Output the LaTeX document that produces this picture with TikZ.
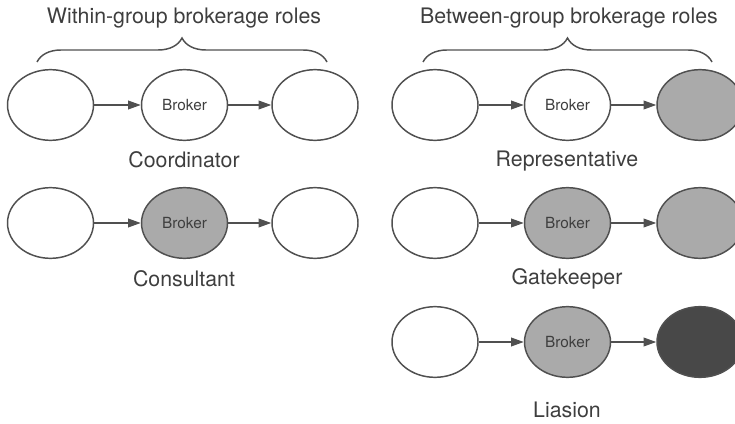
\documentclass[tikz,border=0pt]{standalone}
\usepackage{fontspec}
\setmainfont{TeX Gyre Heros}
\usetikzlibrary{shapes.geometric,arrows.meta,decorations.pathreplacing}

\definecolor{inkgray}{RGB}{80,80,80}
\definecolor{textgray}{RGB}{62,62,62}
\definecolor{midfill}{RGB}{170,170,170}
\definecolor{darkfill}{RGB}{72,72,72}

\tikzset{every picture/.style={line width=0.75pt}}
\tikzset{
  actor/.style={ellipse,draw=inkgray,line width=1.1pt,fill=white,minimum width=64.5pt,minimum height=53pt,inner sep=0pt,text=textgray,font=\fontsize{11.5}{13}\selectfont},
  shaded/.style={actor,fill=midfill},
  darkened/.style={actor,fill=darkfill},
  flow/.style={draw=inkgray,line width=1.2pt,-{Triangle[length=9.5pt,width=6.5pt]}},
  rolename/.style={inner sep=0.75pt,text=textgray,font=\fontsize{16}{19}\selectfont},
  bracket/.style={draw=inkgray,line width=1.1pt,decorate,decoration={brace,amplitude=18pt}}
}

\begin{document}
\begin{tikzpicture}[x=0.75pt,y=0.75pt,yscale=-1,xscale=1]
\useasboundingbox (0,0) rectangle (735,424);

% Titles
\node [rolename] (wtitle) at (184,18) {Within-group brokerage roles};
\node [rolename] (btitle) at (569,18) {Between-group brokerage roles};

%Braces
\coordinate (wbl) at (37,62);
\coordinate (wbr) at (327,62);
\coordinate (bbl) at (423,62);
\coordinate (bbr) at (712,62);
\draw [bracket] (wbl) -- (wbr);
\draw [bracket] (bbl) -- (bbr);

%Coordinator
\node [actor] (coordL) at (50.5,105) {};
\node [actor] (coordB) at (184.5,105) {Broker};
\node [actor] (coordR) at (315,105) {};
\draw [flow] (coordL) -- (coordB);
\draw [flow] (coordB) -- (coordR);
\node [rolename] (coordT) at (184,160) {Coordinator};

%Consultant
\node [actor] (consL) at (50.5,223) {};
\node [shaded] (consB) at (184.5,223) {Broker};
\node [actor] (consR) at (315,223) {};
\draw [flow] (consL) -- (consB);
\draw [flow] (consB) -- (consR);
\node [rolename] (consT) at (184,279) {Consultant};

%Representative
\node [actor] (reprL) at (435,105) {};
\node [actor] (reprB) at (567.5,105) {Broker};
\node [shaded] (reprR) at (700,105) {};
\draw [flow] (reprL) -- (reprB);
\draw [flow] (reprB) -- (reprR);
\node [rolename] (reprT) at (567,161) {Representative};

%Gatekeeper
\node [actor] (gateL) at (435,223) {};
\node [shaded] (gateB) at (567.5,223) {Broker};
\node [shaded] (gateR) at (700,223) {};
\draw [flow] (gateL) -- (gateB);
\draw [flow] (gateB) -- (gateR);
\node [rolename] (gateT) at (567,279) {Gatekeeper};

%Liasion
\node [actor] (liasL) at (435,342) {};
\node [shaded] (liasB) at (567.5,342) {Broker};
\node [darkened] (liasR) at (700,342) {};
\draw [flow] (liasL) -- (liasB);
\draw [flow] (liasB) -- (liasR);
\node [rolename] (liasT) at (567,410) {Liasion};

\end{tikzpicture}
\end{document}
